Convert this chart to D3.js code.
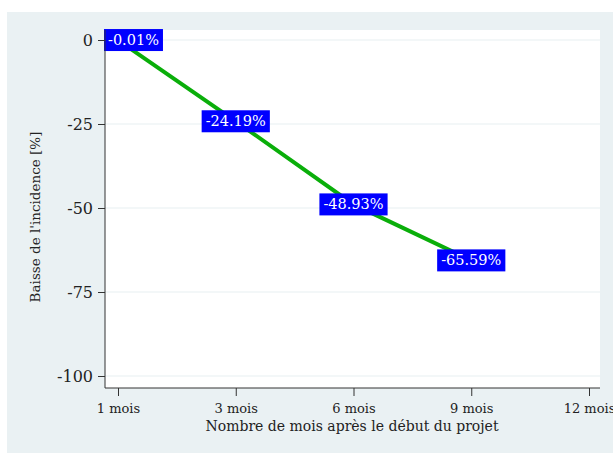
<!DOCTYPE html>
<html>
<head>
<meta charset="utf-8">
<style>
  body { margin: 0; background: #fff; }
  svg { display: block; }
  svg text { font-family: "DejaVu Serif", "Liberation Serif", serif; }
  .grid line { stroke: #e8eff2; stroke-width: 1.2px; }
  .axis path, .axis line { stroke: #333; }
  .axis text { fill: #222; }
</style>
</head>
<body>
<svg width="613" height="453"></svg>
<script src="https://d3js.org/d3.v7.min.js"></script>
<script>
  // data
  let months = ["1 mois", "3 mois", "6 mois", "9 mois", "12 mois"];
  let pointMonths = ["1 mois", "3 mois", "6 mois", "9 mois"];
  let values = [-0.01, -24.19, -48.93, -65.59];
  let yTicks = [0, -25, -50, -75, -100];

  let svg = d3.select("svg");

  // outer background (stata style)
  svg.append("rect")
    .attr("x", 7).attr("y", 12)
    .attr("width", 606).attr("height", 441)
    .style("fill", "#eaf1f3");

  let plot = { left: 105, right: 600, top: 30, bottom: 388 };

  svg.append("rect")
    .attr("x", plot.left).attr("y", plot.top)
    .attr("width", plot.right - plot.left).attr("height", plot.bottom - plot.top)
    .style("fill", "#fff");

  let x = d3.scalePoint()
    .domain(months)
    .range([118, 589]);

  let y = d3.scaleLinear()
    .domain([-100, 0])
    .range([376, 40]);

  // gridlines
  svg.append("g")
    .attr("class", "grid")
    .selectAll("line")
    .data(yTicks)
    .join("line")
    .attr("x1", plot.left).attr("x2", plot.right)
    .attr("y1", d => y(d)).attr("y2", d => y(d));

  let pts = pointMonths.map((m, i) => ({ m: m, v: values[i] }));

  let line = d3.line()
    .x(d => x(d.m))
    .y(d => y(d.v));

  svg.append("path")
    .datum(pts)
    .attr("d", line)
    .style("fill", "none")
    .style("stroke", "#0aae0a")
    .style("stroke-width", "4px");

  // value labels in blue boxes (kept inside the plot on the left)
  let labels = svg.append("g")
    .selectAll("g")
    .data(pts)
    .join("g");

  labels.append("text")
    .attr("text-anchor", "middle")
    .attr("dy", "0.35em")
    .style("font-size", "14.5px")
    .style("fill", "#fff")
    .text(d => d.v.toFixed(2) + "%")
    .each(function (d) {
      let b = this.getBBox();
      let w = b.width + 8;
      let cx = Math.max(x(d.m), plot.left - 1 + w / 2);
      let g = d3.select(this.parentNode)
        .attr("transform", `translate(${cx},${y(d.v)})`);
      g.insert("rect", "text")
        .attr("x", -w / 2).attr("y", -11)
        .attr("width", w).attr("height", 22)
        .style("fill", "#0000ff");
    });

  let yAxis = svg.append("g")
    .attr("class", "axis")
    .attr("transform", `translate(${plot.left},0)`)
    .call(d3.axisLeft(y).tickValues(yTicks).tickFormat(d => String(d)).tickSize(7).tickPadding(5).tickSizeOuter(0));
  yAxis.attr("font-family", null);
  yAxis.select(".domain").attr("d", `M0,${plot.top}V${plot.bottom}`);
  yAxis.selectAll("text").style("font-size", "16px");

  let xAxis = svg.append("g")
    .attr("class", "axis")
    .attr("transform", `translate(0,${plot.bottom})`)
    .call(d3.axisBottom(x).tickSize(8).tickPadding(8).tickSizeOuter(0));
  xAxis.attr("font-family", null);
  xAxis.select(".domain").attr("d", `M${plot.left},0H${plot.right}`);
  xAxis.selectAll("text").style("font-size", "13px");

  // axis titles
  svg.append("text")
    .attr("transform", `translate(40,${(plot.top + plot.bottom) / 2 + 8}) rotate(-90)`)
    .attr("text-anchor", "middle")
    .style("font-size", "13.5px")
    .style("fill", "#222")
    .text("Baisse de l'incidence [%]");

  svg.append("text")
    .attr("x", 352).attr("y", 431)
    .attr("text-anchor", "middle")
    .style("font-size", "14px")
    .style("fill", "#222")
    .text("Nombre de mois après le début du projet");
</script>
</body>
</html>
